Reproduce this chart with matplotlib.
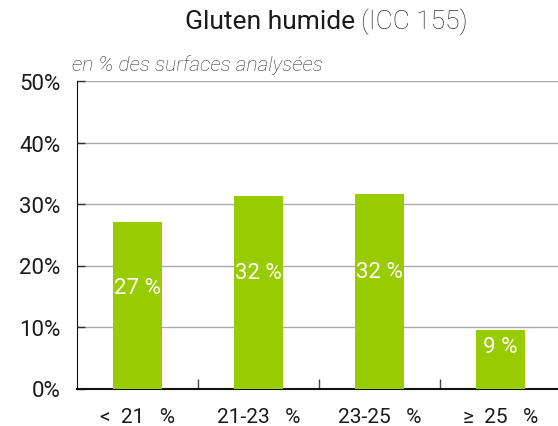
import matplotlib
matplotlib.use("Agg")
import matplotlib.pyplot as plt
import numpy as np

categories = ["<  21   %", "21-23   %", "23-25   %", "\u2265  25   %"]
values = [27.0, 31.3, 31.6, 9.5]
bar_labels = ["27 %", "32 %", "32 %", "9 %"]
yticks = [0, 10, 20, 30, 40, 50]
ytick_labels = ["0%", "10%", "20%", "30%", "40%", "50%"]

plt.rcParams['font.family'] = ['Roboto', 'DejaVu Sans']

fig = plt.figure(figsize=(5.58, 4.27), dpi=100)
ax = fig.add_axes([77 / 558, 1 - 389.5 / 427, 484 / 558, (389.5 - 82) / 427])

x = np.arange(len(categories))
ax.bar(x, values, width=0.413, color="#99cc00", zorder=3)

for xi, v, lab in zip(x, values, bar_labels):
    ax.text(xi, 0.55 * v + 1.6, lab, color="white", ha="center", va="center",
            fontsize=16, zorder=4)

ax.set_xlim(-0.5, 3.5)
ax.set_ylim(0, 50)
ax.set_yticks(yticks)
ax.set_yticklabels(ytick_labels, fontsize=16, color="#1a1a1a")
ax.yaxis.grid(True, color="#aaaaaa", linewidth=1, zorder=0)
ax.tick_params(axis="y", length=6, width=1, direction="in", pad=12, color="#333333")

# category separators as ticks, labels as minor ticks
ax.set_xticks([0.5, 1.5, 2.5])
ax.set_xticklabels([])
ax.tick_params(axis="x", which="major", length=7, width=1, color="#444444", direction="in")
ax.set_xticks(x, minor=True)
ax.set_xticklabels(categories, minor=True, fontsize=15, color="#1a1a1a")
ax.tick_params(axis="x", which="minor", length=0, pad=13)

for s in ["top", "right"]:
    ax.spines[s].set_visible(False)
ax.spines["left"].set_color("#111111")
ax.spines["bottom"].set_color("#111111")
ax.spines["bottom"].set_linewidth(1.5)

fig.text(355 / 558, 1 - 22 / 427, "Gluten humide", ha="right", va="center",
         fontsize=19, color="#1a1a1a")
fig.text(361 / 558, 1 - 22 / 427, "(ICC 155)", ha="left", va="center",
         fontsize=19, color="#333333", fontweight="light")
fig.text(72 / 558, 1 - 65 / 427, "en % des surfaces analysées", ha="left", va="center",
         fontsize=15, style="italic", fontweight="light", color="#333333")

fig.savefig("out.png", dpi=100)
